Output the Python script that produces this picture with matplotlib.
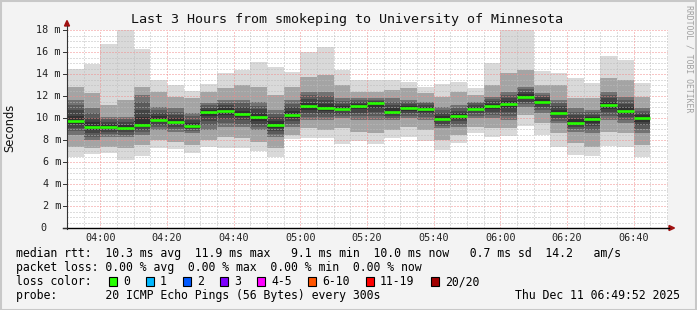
import numpy as np
import matplotlib
matplotlib.use("Agg")
import matplotlib.pyplot as plt
from matplotlib.patches import Rectangle, Polygon
from matplotlib.lines import Line2D

plt.rcParams["lines.scale_dashes"] = False

# 5 minute slots, minutes after midnight (03:50 .. 06:40)
slot_start = np.arange(230, 405, 5)
step = 5

# smoke: spread of the 20 pings per slot, in ms
ping_max = [14.5, 14.9, 16.7, 18.2, 16.25, 13.5, 13.0, 12.5, 13.1, 14.06,
            14.4, 15.05, 14.67, 14.2, 16.03, 16.48, 14.36, 13.5, 13.45, 13.45,
            13.3, 12.85, 13.1, 13.3, 12.7, 14.97, 18.2, 18.2, 14.3, 14.1,
            13.6, 13.2, 15.64, 15.27, 13.15]
ping_p90 = [12.85, 12.24, 11.18, 11.64, 12.85, 12.4, 11.94, 11.79, 12.4, 12.7,
            13.0, 12.85, 12.09, 12.85, 13.76, 13.9, 13.0, 12.4, 12.4, 12.55,
            12.7, 12.24, 11.94, 12.4, 12.09, 13.0, 14.1, 14.4, 13.0, 13.0,
            11.79, 11.79, 13.6, 13.45, 11.94]
ping_p75 = [11.64, 10.88, 10.12, 10.12, 12.09, 11.03, 10.88, 10.42, 11.33, 11.64,
            11.64, 11.49, 10.73, 11.64, 12.4, 12.4, 11.79, 11.79, 11.79, 11.79,
            11.64, 11.49, 11.03, 11.18, 11.49, 11.94, 12.4, 12.85, 12.24, 11.64,
            10.88, 10.73, 12.4, 11.94, 10.88]
median_rtt = [9.75, 9.2, 9.2, 9.1, 9.4, 9.85, 9.65, 9.3, 10.57, 10.67,
              10.36, 10.06, 9.37, 10.27, 11.06, 10.9, 10.8, 11.1, 11.33, 10.57,
              10.88, 10.82, 9.9, 10.18, 10.85, 11.1, 11.24, 11.94, 11.5, 10.48,
              9.58, 9.9, 11.2, 10.67, 10.03]
ping_p25 = [8.45, 8.0, 8.3, 8.3, 8.45, 8.91, 8.76, 8.61, 8.91, 9.21,
            9.21, 8.91, 8.3, 9.21, 9.82, 9.82, 9.97, 9.82, 9.82, 9.82,
            9.97, 9.82, 9.06, 9.21, 9.97, 9.97, 9.82, 11.0, 10.42, 9.52,
            8.76, 8.61, 9.82, 9.52, 8.61]
ping_p10 = [7.39, 7.24, 7.39, 7.24, 7.55, 8.0, 7.85, 7.55, 8.0, 8.3,
            8.15, 7.85, 7.24, 8.45, 9.06, 8.91, 9.06, 8.76, 8.61, 8.91,
            9.2, 8.91, 8.0, 8.45, 9.21, 9.06, 9.06, 10.3, 9.52, 8.61,
            7.7, 7.39, 8.76, 8.61, 7.55]
ping_min = [6.5, 6.7, 6.8, 6.2, 6.55, 7.25, 7.2, 6.85, 7.4, 7.3,
            7.3, 7.0, 6.5, 8.1, 8.2, 8.2, 7.6, 7.95, 7.6, 8.2,
            8.3, 7.95, 7.1, 7.7, 8.6, 8.3, 8.36, 9.3, 8.45, 7.4,
            6.6, 6.55, 7.45, 7.4, 6.5]

loss_labels = ["0", "1", "2", "3", "4-5", "6-10", "11-19", "20/20"]
loss_colors = ["#26ff00", "#00b8ff", "#0059ff", "#7e00ff", "#ff00ff",
               "#ff5500", "#ff0000", "#a10000"]

title = "Last 3 Hours from smokeping to University of Minnesota"
row_rtt = "median rtt:  10.3 ms avg  11.9 ms max   9.1 ms min  10.0 ms now   0.7 ms sd  14.2   am/s"
row_loss = "packet loss: 0.00 % avg  0.00 % max  0.00 % min  0.00 % now"
row_probe = "probe:       20 ICMP Echo Pings (56 Bytes) every 300s"
stamp = "Thu Dec 11 06:49:52 2025"

W, H = 697, 310
MONO = "DejaVu Sans Mono"


def fx(x):
    return x / W


def fy(y):
    return 1 - y / H


fig = plt.figure(figsize=(W / 100, H / 100), dpi=100, facecolor="#f3f3f3")

# plot area: x 67..668, y 30..228 px
ax = fig.add_axes([fx(67), fy(228), (668 - 67) / W, (228 - 30) / H])
ax.set_facecolor("white")
ax.set_xlim(230, 230 + 601 * 0.3)
ax.set_ylim(0, 18)
for s in ax.spines.values():
    s.set_visible(False)

# smoke
layers = [(ping_min, ping_max, "#d9d9d9"),
          (ping_p10, ping_p90, "#a4a4a4"),
          (ping_p25, ping_p75, "#727272")]
for lo, hi, col in layers:
    for i, x0 in enumerate(slot_start):
        ax.add_patch(Rectangle((x0, lo[i]), step, hi[i] - lo[i],
                               facecolor=col, edgecolor="none", zorder=1))
# darker core around the median
core = ["#5a5a5a", "#444444", "#313131"]
for k, col in enumerate(core, start=1):
    f = k / (len(core) + 1)
    for i, x0 in enumerate(slot_start):
        lo = ping_p25[i] + (median_rtt[i] - ping_p25[i]) * f
        hi = ping_p75[i] - (ping_p75[i] - median_rtt[i]) * f
        ax.add_patch(Rectangle((x0, lo), step, hi - lo,
                               facecolor=col, edgecolor="none", zorder=1))

# dotted grid on top of smoke (1 px dot, 2 px gap)
dots = (0, (0.72, 1.44))
for v in np.arange(0.5, 18.01, 0.5):
    major = abs(v % 2) < 1e-9
    ax.axhline(v, color="#f28c8c" if major else "#bcbcbc", lw=0.72,
               ls=dots, zorder=3)
for m in np.arange(235, 411, 5):
    major = (m % 20) == 0
    ax.axvline(m, color="#f28c8c" if major else "#bcbcbc", lw=0.72,
               ls=dots, zorder=3)

# median line
ax.hlines(median_rtt, slot_start, slot_start + step, colors=loss_colors[0],
          lw=1.9, zorder=4)

ax.set_xticks([])
ax.set_yticks([])

# tick labels
for m in np.arange(240, 401, 20):
    ax.text(m, -0.9, f"{m // 60:02d}:{m % 60:02d}", ha="center", va="center",
            fontsize=7.3, family=MONO, color="#222222", clip_on=False)
ytr = ax.get_yaxis_transform()
for v in range(0, 19, 2):
    if v:
        ax.text(-0.01, v, f"{v} m", ha="right", va="center", fontsize=7.3,
                family=MONO, color="#222222", transform=ytr, clip_on=False)
    else:
        ax.text(-0.0333, v, "0", ha="right", va="center", fontsize=7.3,
                family=MONO, color="#222222", transform=ytr, clip_on=False)

# axes with arrows
fig.add_artist(Line2D([fx(67), fx(67)], [fy(229), fy(26)], color="#333333", lw=0.8))
fig.add_artist(Line2D([fx(63), fx(669)], [fy(228), fy(228)], color="black", lw=1.0))
for v in range(0, 19, 2):
    fig.add_artist(Line2D([fx(63), fx(67)], [fy(228 - v * 11)] * 2,
                          color="#333333", lw=0.7))
fig.add_artist(Polygon([[fx(64.5), fy(26)], [fx(69.5), fy(26)], [fx(67), fy(20.5)]],
                       closed=True, color="#a01010"))
fig.add_artist(Polygon([[fx(669), fy(225.5)], [fx(669), fy(230.5)], [fx(674.5), fy(228)]],
                       closed=True, color="#a01010"))

# title, axis label, watermark
fig.text(fx(347), fy(19), title, ha="center", va="center", fontsize=9.6,
         family=MONO, color="#111111")
fig.text(fx(10), fy(128), "Seconds", ha="center", va="center", rotation=90,
         fontsize=8.3, family="DejaVu Sans", color="#111111")
fig.text(fx(689), fy(59), "RRDTOOL / TOBI OETIKER", ha="center", va="center",
         rotation=270, fontsize=5.9, family=MONO, color="#a0a0a0")

# legend rows
fig.text(fx(16), fy(254), row_rtt, ha="left", va="center", fontsize=8.3, family=MONO)
fig.text(fx(16), fy(267.8), row_loss, ha="left", va="center", fontsize=8.3, family=MONO)
fig.text(fx(16), fy(281.6), "loss color:", ha="left", va="center", fontsize=8.3, family=MONO)
bx = 109
for lab, col in zip(loss_labels, loss_colors):
    fig.add_artist(Rectangle((fx(bx), fy(286)), 8 / W, 9 / H, facecolor=col,
                             edgecolor="black", lw=0.8))
    fig.text(fx(bx + 14), fy(281.6), lab, ha="left", va="center", fontsize=8.3, family=MONO)
    bx += 30 + 7 * len(lab)
fig.text(fx(16), fy(295.4), row_probe, ha="left", va="center", fontsize=8.3, family=MONO)
fig.text(fx(680), fy(295.4), stamp, ha="right", va="center", fontsize=8.3, family=MONO)

# frame
fig.add_artist(Rectangle((0.5 / W, 0.5 / H), (W - 1.5) / W, (H - 1.5) / H,
                         fill=False, edgecolor="#c8c8c8", lw=1.5))

fig.savefig("out.png", dpi=100, facecolor=fig.get_facecolor())
